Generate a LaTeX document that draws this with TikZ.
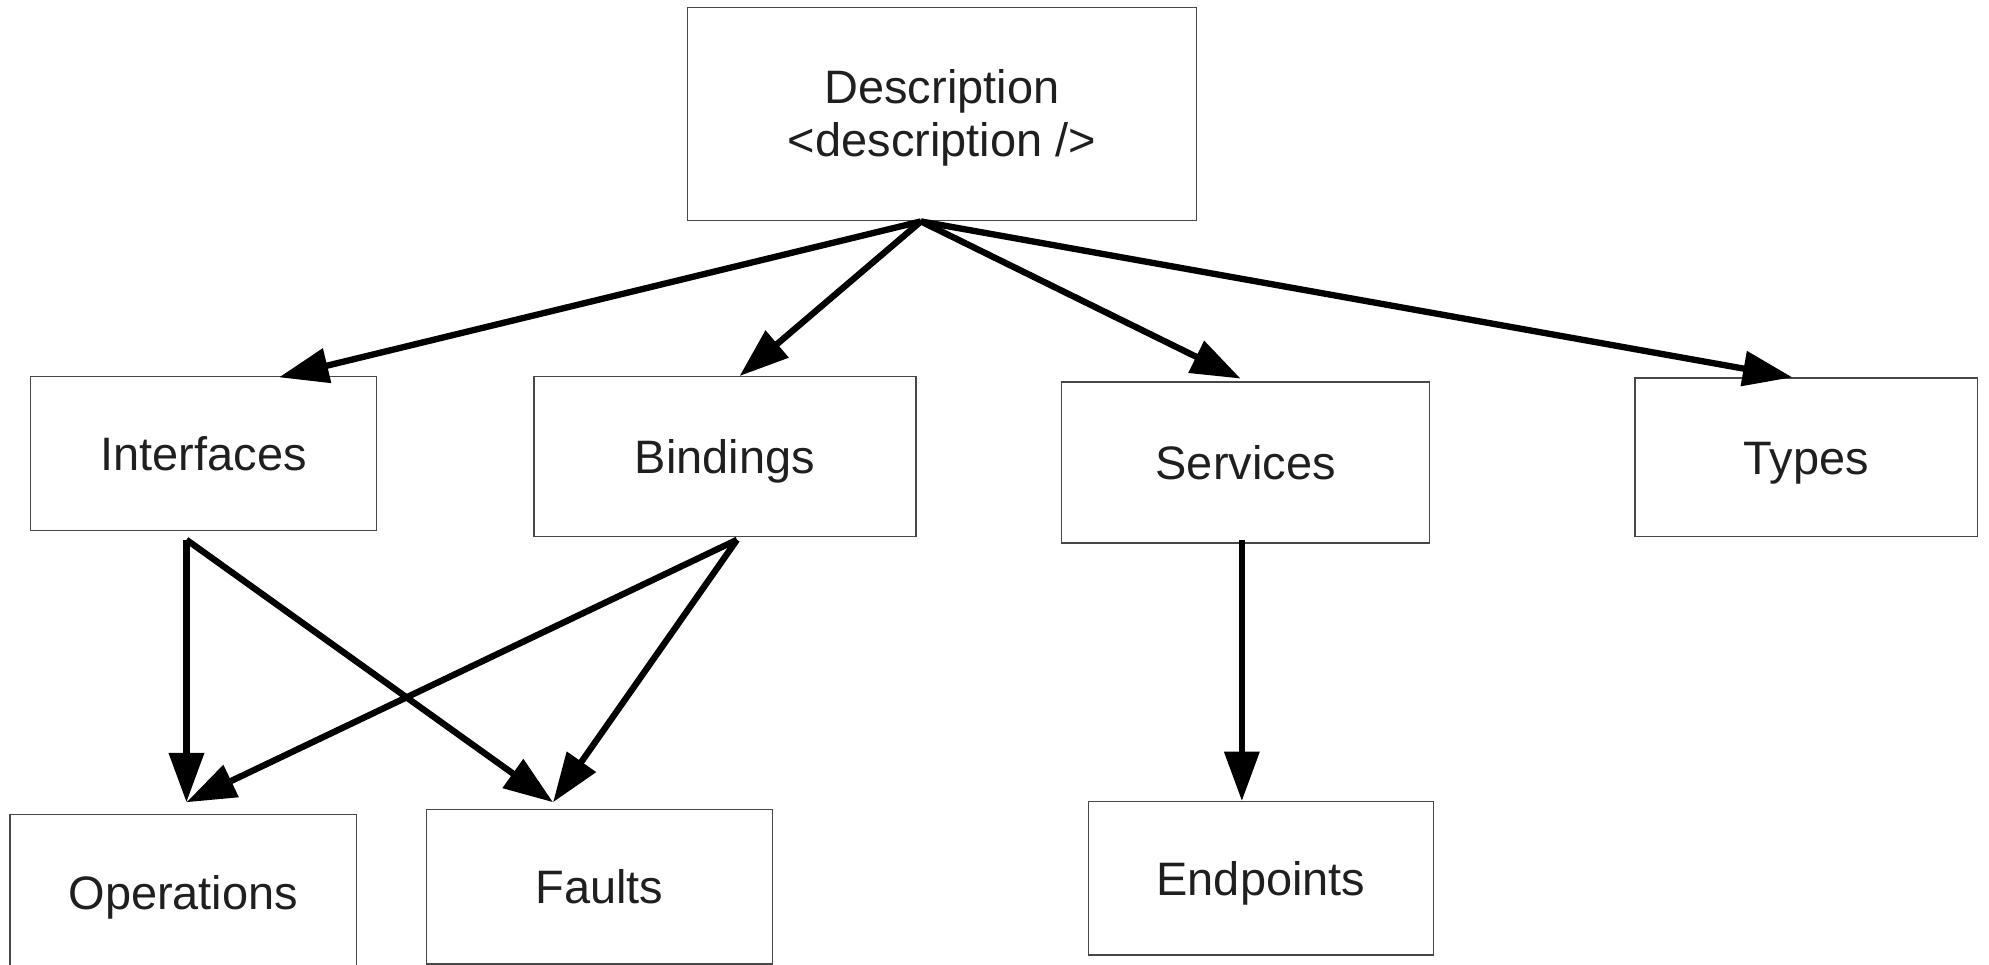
\documentclass[tikz,border=0pt]{standalone}
\usepackage{fontspec}
\setmainfont{Liberation Sans}
\usetikzlibrary{arrows.meta}
\begin{document}
\begin{tikzpicture}[x=1pt,y=-1pt,
  box/.style={draw=black!72, line width=1.1pt, inner sep=0pt, align=center,
    text=black!88, font=\fontsize{37}{42}\selectfont, text height=33pt, text depth=6.5pt},
  arr/.style={line width=5pt, -{Triangle[length=39pt,width=27pt]}}]
\useasboundingbox (0,0) rectangle (1568,760.7);
\node[box, minimum width=401pt, minimum height=168pt, text height=70pt, text depth=3.5pt] (desc) at (742.5,90) {Description\\\textless description /\textgreater};
\node[box, minimum width=273pt, minimum height=121pt] (intf) at (160.5,357.5) {Interfaces};
\node[box, minimum width=301pt, minimum height=126pt] (bind) at (571.5,360) {Bindings};
\node[box, minimum width=290pt, minimum height=127pt] (serv) at (982,364.5) {Services};
\node[box, minimum width=270pt, minimum height=125pt] (types) at (1424,360.5) {Types};
\node[box, minimum width=273pt, minimum height=124pt] (oper) at (144.5,704) {Operations};
\node[box, minimum width=273pt, minimum height=122pt] (faul) at (472.5,699) {Faults};
\node[box, minimum width=272pt, minimum height=121pt] (endp) at (994,692.5) {Endpoints};

\draw[arr] ([xshift=-16.5pt]desc.south) -- ([xshift=59.5pt,yshift=-1pt]intf.north);
\draw[arr] ([xshift=-16.5pt]desc.south) -- ([xshift=11.5pt]bind.north);
\draw[arr] ([xshift=-16.5pt]desc.south) -- ([xshift=-4pt,yshift=2pt]serv.north);
\draw[arr] ([xshift=-16.5pt]desc.south) -- ([xshift=-11pt]types.north);
\draw[arr] ([xshift=-13.5pt,yshift=-7pt]intf.south) -- ([xshift=2.5pt,yshift=9pt]oper.north);
\draw[arr] ([xshift=-13.5pt,yshift=-7pt]intf.south) -- ([xshift=-36.5pt,yshift=5pt]faul.north);
\draw[arr] ([xshift=9.5pt,yshift=-2pt]bind.south) -- ([xshift=2.5pt,yshift=9pt]oper.north);
\draw[arr] ([xshift=9.5pt,yshift=-2pt]bind.south) -- ([xshift=-36.5pt,yshift=5pt]faul.north);
\draw[arr] ([xshift=-3pt,yshift=3pt]serv.south) -- ([xshift=-15pt]endp.north);
\end{tikzpicture}
\end{document}
